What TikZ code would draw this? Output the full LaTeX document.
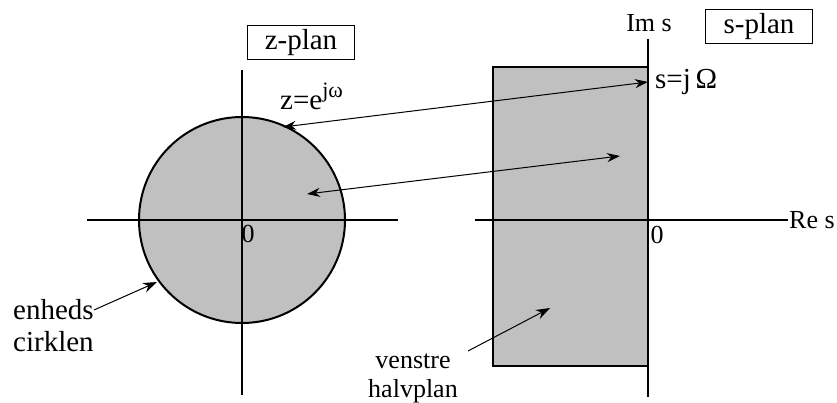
\documentclass[tikz,border=0pt]{standalone}
\usepackage{fontspec}
\setmainfont{Liberation Serif}
\usetikzlibrary{arrows.meta}
\definecolor{plan}{RGB}{192,192,192}
\newcommand{\storfont}{\fontsize{29}{32}\selectfont}
\newcommand{\lillefont}{\fontsize{26}{29}\selectfont}
\tikzset{
  akse/.style={draw=black,line width=2pt},
  kant/.style={draw=black,line width=2pt},
  pil/.style={line width=1pt,{Stealth[length=13pt,width=9pt]}-{Stealth[length=13pt,width=9pt]}},
  enpil/.style={line width=1pt,-{Stealth[length=14pt,width=10pt]}},
  planboks/.style={draw,line width=1pt,minimum width=107pt,minimum height=34pt,inner sep=0pt,font=\storfont},
  tekst/.style={inner sep=0pt,font=\storfont},
  lille/.style={inner sep=0pt,font=\lillefont}
}

\begin{document}
\begin{tikzpicture}[x=1pt,y=-1pt]
  \useasboundingbox (0,0) rectangle (837,403);
  % z-plan
  \fill[plan] (242,220) circle (103pt);
  \draw[akse] (87,220) -- (398,220);
  \draw[akse] (242,70) -- (242,395);
  \draw[kant] (242,220) circle (103pt);
  % s-plan
  \fill[plan] (493,67) rectangle (648,366);
  \draw[kant] (648,67) -- (493,67) -- (493,366) -- (648,366);
  \draw[akse] (475,220) -- (788,220);
  \draw[akse] (648,39) -- (648,397);
  % tekster
  \node[planboks] (zplan) at (301,43) {z-plan};
  \node[planboks] (splan) at (759,27) {s-plan};
  \node[tekst,anchor=base west] (zlabel) at (280,110) {z=e\raisebox{.42em}{\fontsize{22}{22}\selectfont jω}};
  \node[tekst,anchor=base west] (slabel) at (655,89) {s=j\,Ω};
  \node[lille] (ims) at (649,23) {Im s};
  \node[lille,anchor=west] (res) at (789,220) {Re s};
  \node[lille] (nulz) at (248,234) {0};
  \node[lille] (nuls) at (657,235) {0};
  \node[tekst,align=left,anchor=west] (enheds) at (13,326) {enheds\\cirklen};
  \node[lille,align=center] (venstre) at (413,378) {venstre\\halvplan};
  % pile
  \coordinate (zA) at (283,127);
  \coordinate (sA) at (648,82);
  \coordinate (zB) at (307,194);
  \coordinate (sB) at (620,156);
  \coordinate (rand) at (157,282);
  \coordinate (halvA) at (468,351);
  \coordinate (halvB) at (550,308);
  \draw[pil] (zA) -- (sA);
  \draw[pil] (zB) -- (sB);
  \draw[enpil] ([yshift=16pt]enheds.east) -- (rand);
  \draw[enpil] (halvA) -- (halvB);
\end{tikzpicture}
\end{document}
